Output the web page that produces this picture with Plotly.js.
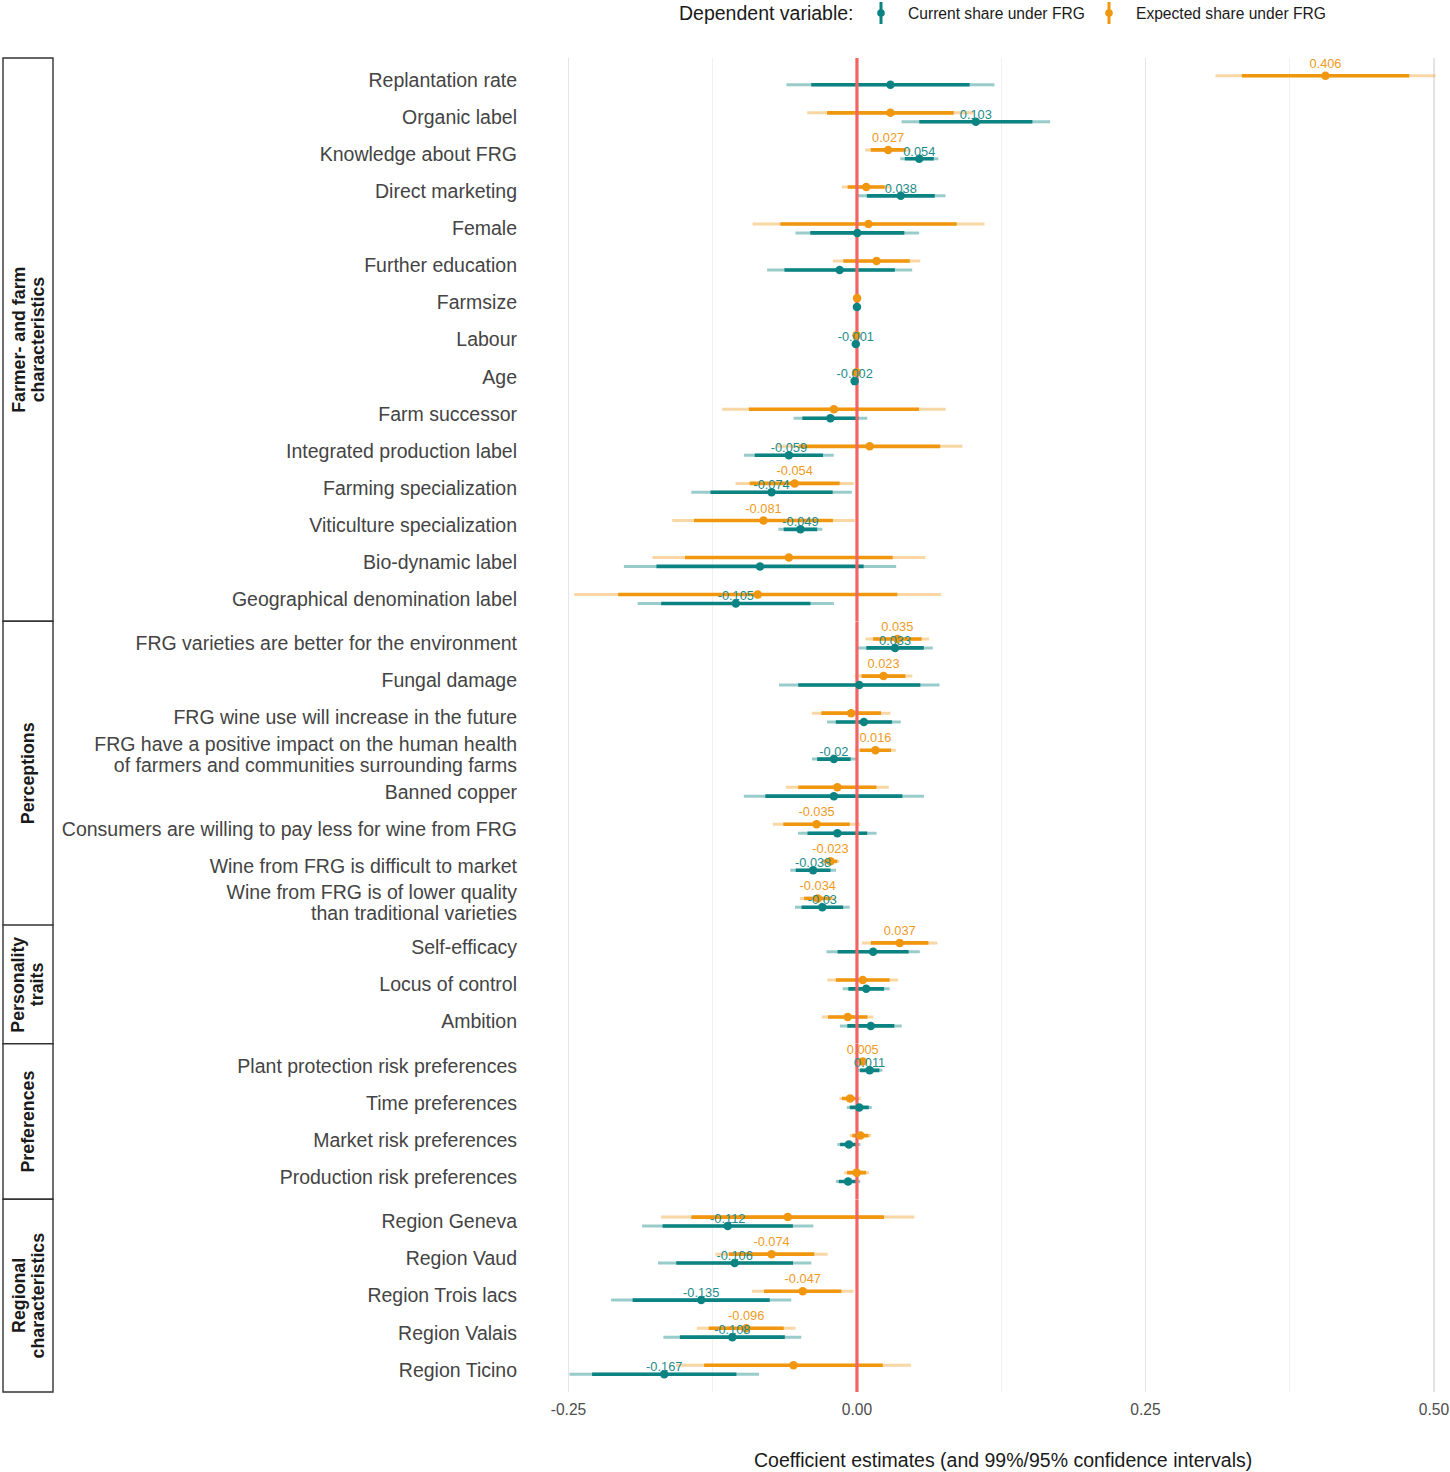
<!DOCTYPE html>
<html>
<head>
<meta charset="utf-8">
<script src="https://cdn.plot.ly/plotly-3.0.1.min.js"></script>
<style>
  html, body { margin: 0; padding: 0; background: #ffffff; overflow: hidden; }
  #chart { width: 1450px; height: 1472px; }
</style>
</head>
<body>
<div id="chart"></div>
<script>
// ---------------------------------------------------------------
// Regression coefficients for the share of fungus-resistant grape
// varieties (FRG): current share vs. expected share.
// ---------------------------------------------------------------

const groupOrder = [
  "Farmer- and farm\ncharacteristics",
  "Perceptions",
  "Personality\ntraits",
  "Preferences",
  "Regional\ncharacteristics"
];

const variables = [
  "Replantation rate", "Organic label", "Knowledge about FRG", "Direct marketing",
  "Female", "Further education", "Farmsize", "Labour", "Age", "Farm successor",
  "Integrated production label", "Farming specialization", "Viticulture specialization",
  "Bio-dynamic label", "Geographical denomination label",
  "FRG varieties are better for the environment", "Fungal damage",
  "FRG wine use will increase in the future",
  "FRG have a positive impact on the human health\nof farmers and communities surrounding farms",
  "Banned copper", "Consumers are willing to pay less for wine from FRG",
  "Wine from FRG is difficult to market",
  "Wine from FRG is of lower quality\nthan traditional varieties",
  "Self-efficacy", "Locus of control", "Ambition",
  "Plant protection risk preferences", "Time preferences", "Market risk preferences",
  "Production risk preferences",
  "Region Geneva", "Region Vaud", "Region Trois lacs", "Region Valais", "Region Ticino"
];

// group index (into groupOrder) of every variable
const variableGroup = [
  0, 0, 0, 0, 0, 0, 0, 0, 0, 0, 0, 0, 0, 0, 0,
  1, 1, 1, 1, 1, 1, 1, 1,
  2, 2, 2,
  3, 3, 3, 3,
  4, 4, 4, 4, 4
];

// Current share under FRG: estimate and standard error
const currentEst = [
  0.029, 0.103, 0.054, 0.038, 0.0003, -0.015, 0.0000, -0.001, -0.002, -0.023,
  -0.059, -0.074, -0.049, -0.084, -0.105,
  0.033, 0.002, 0.006, -0.02, -0.020, -0.017, -0.038, -0.03,
  0.014, 0.008, 0.012,
  0.011, 0.002, -0.007, -0.0077,
  -0.112, -0.106, -0.135, -0.108, -0.167
];
const currentSE = [
  0.035, 0.025, 0.0064, 0.015, 0.0208, 0.0244, 0.0001, 0.0003, 0.0006, 0.0124,
  0.0151, 0.027, 0.0074, 0.0458, 0.033,
  0.0127, 0.027, 0.0124, 0.0074, 0.0303, 0.0132, 0.0077, 0.0092,
  0.0157, 0.0079, 0.0104,
  0.0043, 0.0042, 0.0039, 0.0041,
  0.0288, 0.0258, 0.0303, 0.0232, 0.0319
];
// 1 = estimate is printed next to the point
const currentShown = [
  0, 1, 1, 1, 0, 0, 0, 1, 1, 0, 1, 1, 1, 0, 1,
  1, 0, 0, 1, 0, 0, 1, 1,
  0, 0, 0,
  1, 0, 0, 0,
  1, 1, 1, 1, 1
];

// Expected share under FRG: estimate and standard error
const expectedEst = [
  0.406, 0.029, 0.027, 0.008, 0.010, 0.017, 0.0001, -0.0004, -0.0005, -0.020,
  0.011, -0.054, -0.081, -0.059, -0.086,
  0.035, 0.023, -0.005, 0.016, -0.017, -0.035, -0.023, -0.034,
  0.037, 0.005, -0.008,
  0.005, -0.006, 0.003, -0.0003,
  -0.060, -0.074, -0.047, -0.096, -0.055
];
const expectedSE = [
  0.037, 0.028, 0.0077, 0.0082, 0.039, 0.0147, 0.0001, 0.0004, 0.0008, 0.0376,
  0.0312, 0.0199, 0.0307, 0.0459, 0.0617,
  0.0107, 0.0097, 0.0132, 0.0069, 0.0173, 0.0147, 0.003, 0.006,
  0.0127, 0.0119, 0.0087,
  0.0015, 0.0036, 0.0036, 0.0042,
  0.0426, 0.0189, 0.0171, 0.0166, 0.0395
];
const expectedShown = [
  1, 0, 1, 0, 0, 0, 0, 0, 0, 0, 0, 1, 1, 0, 0,
  1, 1, 0, 1, 0, 1, 1, 1,
  1, 0, 0,
  1, 0, 0, 0,
  0, 1, 1, 1, 0
];

const seriesNames = ["Current share under FRG", "Expected share under FRG"];
const xTickVals = [-0.25, 0, 0.25, 0.5];
const xTickText = ["-0.25", "0.00", "0.25", "0.50"];
const xMinorVals = [-0.125, 0.125, 0.375];
const xRange = [-0.2868, 0.5139];
const z95 = 1.96, z99 = 2.576;

// ---------------- styling ----------------
const W = 1450, H = 1472;
const M = { l: 526, r: 0, t: 58, b: 80 };
const PW = W - M.l - M.r, PH = H - M.t - M.b;
const pxX = x => (x - M.l) / PW;
const pxY = y => 1 - (y - M.t) / PH;
const LABEL_LINE_STEP = 0.57;   // distance between wrapped tick-label lines, in rows

const FONT = "Liberation Sans, Arial, Helvetica, sans-serif";
const series = [
  { name: seriesNames[0], est: currentEst, se: currentSE, shown: currentShown,
    dark: "#0c8383", light: "rgba(12,131,131,0.42)", text: "#1d8b8b",
    dy: 0.12, textDy: -0.05 },
  { name: seriesNames[1], est: expectedEst, se: expectedSE, shown: expectedShown,
    dark: "#f0960f", light: "rgba(240,150,15,0.38)", text: "#f09a1e",
    dy: -0.12, textDy: -0.42 }
];

const fmt = v => String(parseFloat(v.toFixed(3)));

// ---------------- panels ----------------
const panels = groupOrder.map((g, k) => ({
  name: g,
  rows: variables.map((_, i) => i).filter(i => variableGroup[i] === k)
}));
const totalUnits = panels.reduce((s, p) => s + p.rows.length + 0.2, 0);
let acc = 0;
panels.forEach((p, k) => {
  const h = p.rows.length + 0.2;
  p.domain = [1 - (acc + h) / totalUnits, 1 - acc / totalUnits];
  acc += h;
  p.yref = k === 0 ? "y" : "y" + (k + 1);
  p.yKey = k === 0 ? "yaxis" : "yaxis" + (k + 1);
});

const traces = [];
const layout = {
  width: W, height: H,
  margin: M,
  paper_bgcolor: "#ffffff",
  plot_bgcolor: "#ffffff",
  showlegend: false,
  font: { family: FONT, color: "#333333" },
  xaxis: {
    domain: [0, 1],
    range: xRange,
    anchor: panels[panels.length - 1].yref,
    tickvals: xTickVals,
    ticktext: xTickText,
    ticks: "",
    ticklabelstandoff: 6,
    tickfont: { family: FONT, size: 15.6, color: "#4d4d4d" },
    showgrid: true,
    gridcolor: "#e4e4e4",
    gridwidth: 1.2,
    minor: { tickvals: xMinorVals, showgrid: true, gridcolor: "#eeeeee", gridwidth: 0.9, ticks: "" },
    zeroline: false,
    showline: false,
    fixedrange: true
  },
  shapes: [],
  annotations: []
};

panels.forEach(p => {
  const n = p.rows.length;

  // one tick per text line so wrapped labels keep a tight line spacing
  const tickVals = [], tickText = [];
  p.rows.forEach((i, j) => {
    const lines = variables[i].split("\n");
    lines.forEach((ln, k) => {
      tickVals.push(j + (k - (lines.length - 1) / 2) * LABEL_LINE_STEP);
      tickText.push(ln);
    });
  });

  layout[p.yKey] = {
    domain: p.domain,
    anchor: "x",
    range: [n - 0.4, -0.6],
    tickvals: tickVals,
    ticktext: tickText,
    ticks: "",
    ticklabelstandoff: 8,
    tickfont: { family: FONT, size: 19.5, color: "#444444" },
    showgrid: false,
    zeroline: false,
    showline: false,
    fixedrange: true
  };

  const ys = s => p.rows.map((_, j) => j + s.dy);

  // 99% intervals (light), then 95% intervals (dark)
  [[z99, "light", 3], [z95, "dark", 3.6]].forEach(([z, tone, th]) => {
    series.forEach(s => {
      traces.push({
        type: "scatter", mode: "markers",
        x: p.rows.map(i => s.est[i]), y: ys(s), yaxis: p.yref, xaxis: "x",
        marker: { size: 1, opacity: 0 },
        error_x: { type: "data", symmetric: true, array: p.rows.map(i => z * s.se[i]),
                   color: s[tone], thickness: th, width: 0 },
        hoverinfo: "skip", name: s.name
      });
    });
  });

  // reference line at zero
  traces.push({
    type: "scatter", mode: "lines", x: [0, 0], y: [-0.6, n - 0.4],
    yaxis: p.yref, xaxis: "x", line: { color: "#f26464", width: 3.2 },
    hoverinfo: "skip", cliponaxis: false
  });

  // point estimates
  series.forEach(s => {
    traces.push({
      type: "scatter", mode: "markers",
      x: p.rows.map(i => s.est[i]), y: ys(s), yaxis: p.yref, xaxis: "x",
      marker: { size: 8.5, color: s.dark },
      name: s.name, hovertemplate: "%{x:.3f}<extra>" + s.name + "</extra>"
    });
  });

  // printed estimates
  series.forEach(s => {
    const idx = p.rows.map((i, j) => [i, j]).filter(([i]) => s.shown[i]);
    traces.push({
      type: "scatter", mode: "text",
      x: idx.map(([i]) => s.est[i]), y: idx.map(([, j]) => j + s.textDy),
      text: idx.map(([i]) => fmt(s.est[i])),
      textposition: "middle center",
      textfont: { family: FONT, size: 12.8, color: s.text },
      yaxis: p.yref, xaxis: "x", hoverinfo: "skip", cliponaxis: false
    });
  });

  // facet strip on the left
  layout.shapes.push({
    type: "rect", xref: "paper", yref: p.yref + " domain",
    x0: pxX(3), x1: pxX(53), y0: 0, y1: 1,
    line: { color: "#333333", width: 1.4 }, fillcolor: "#ffffff", layer: "above"
  });
  const lines = p.name.split("\n");
  lines.forEach((ln, li) => {
    layout.annotations.push({
      xref: "paper", yref: p.yref + " domain",
      x: pxX(28), y: 0.5, xshift: (li - (lines.length - 1) / 2) * 19.5,
      text: "<b>" + ln + "</b>", textangle: -90, showarrow: false,
      font: { family: FONT, size: 17.8, color: "#1a1a1a" },
      xanchor: "center", yanchor: "middle"
    });
  });
});

// axis title
layout.annotations.push({
  xref: "paper", yref: "paper", x: pxX(1003), y: pxY(1460),
  text: "Coefficient estimates (and 99%/95% confidence intervals)",
  showarrow: false, xanchor: "center", yanchor: "middle",
  font: { family: FONT, size: 19.5, color: "#1a1a1a" }
});

// legend row
layout.annotations.push({
  xref: "paper", yref: "paper", x: pxX(856), y: pxY(13),
  text: "Dependent variable:", showarrow: false, xanchor: "right", yanchor: "middle",
  font: { family: FONT, size: 19.5, color: "#1a1a1a" }
});
[[881, 906], [1109, 1134]].forEach(([kx, tx], si) => {
  const s = series[si];
  layout.shapes.push({
    type: "line", xref: "paper", yref: "paper",
    x0: pxX(kx), x1: pxX(kx), y0: pxY(2), y1: pxY(24),
    line: { color: s.dark, width: 3 }
  });
  layout.shapes.push({
    type: "circle", xref: "paper", yref: "paper",
    x0: pxX(kx - 3.8), x1: pxX(kx + 3.8), y0: pxY(16.8), y1: pxY(9.2),
    line: { width: 0 }, fillcolor: s.dark
  });
  layout.annotations.push({
    xref: "paper", yref: "paper", x: pxX(tx), y: pxY(13),
    text: s.name, showarrow: false, xanchor: "left", yanchor: "middle",
    font: { family: FONT, size: 15.6, color: "#1a1a1a" }
  });
});

Plotly.newPlot("chart", traces, layout, { displayModeBar: false, staticPlot: true });
</script>
</body>
</html>
